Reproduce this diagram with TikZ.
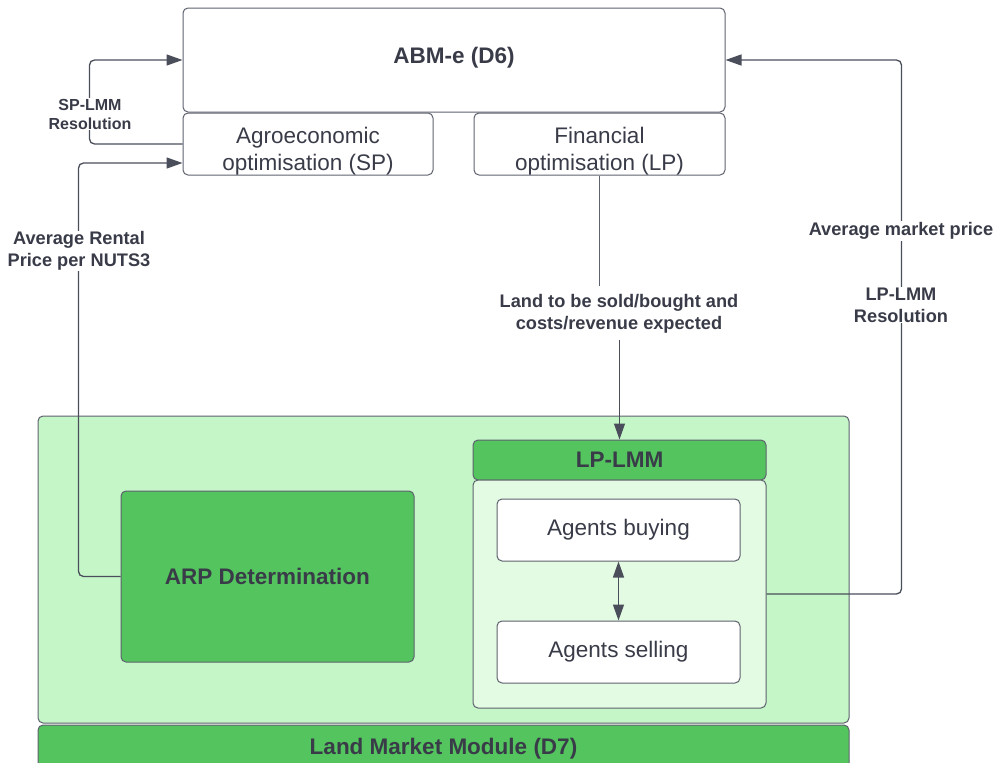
\documentclass[tikz,border=0pt]{standalone}
\usepackage{fontspec}
\setmainfont{Liberation Sans}
\usetikzlibrary{arrows.meta}

\definecolor{txt}{HTML}{393C48}
\definecolor{edge}{HTML}{5E626E}
\definecolor{wire}{HTML}{4A4E5A}
\definecolor{gdark}{HTML}{54C45E}
\definecolor{glight}{HTML}{C4F6C8}
\definecolor{gpale}{HTML}{E3FAE3}

\tikzset{
  box/.style={draw=edge, line width=1pt, rounded corners=5pt, rectangle,
    inner sep=0pt, align=center, text=txt,
    font=\fontsize{22.5}{27}\selectfont},
  boldbox/.style={box, font=\fontsize{22.5}{27}\selectfont\bfseries},
  boxtext/.style={inner sep=0pt, align=center, text=txt,
    font=\fontsize{22.5}{27}\selectfont},
  conn/.style={draw=wire, line width=1.3pt, rounded corners=5pt},
  tip/.style={-{Triangle[length=16pt,width=11pt]}},
  twotips/.style={{Triangle[length=16pt,width=11pt]}-{Triangle[length=16pt,width=11pt]}},
  edgelabel/.style={fill=white, inner sep=1pt, align=center, text=txt,
    font=\fontsize{18.2}{22}\selectfont\bfseries},
  smalllabel/.style={edgelabel, font=\fontsize{16}{19}\selectfont\bfseries}
}

\begin{document}
\begin{tikzpicture}[x=1pt, y=-1pt]
  \useasboundingbox (0,0) rectangle (997,763);

  % ABM-e block and its two optimisation parts
  \node[boldbox, minimum width=542pt, minimum height=104pt] (abm) at (454,60) {};
  \node[boxtext, font=\fontsize{22.5}{27}\selectfont\bfseries] (abmtext) at (454,58) {ABM-e (D6)};
  \node[box, minimum width=250pt, minimum height=62pt] (agro) at (308,144) {};
  \node[boxtext] (agrotext) at (308,151) {Agroeconomic\\optimisation (SP)};
  \node[box, minimum width=251pt, minimum height=62pt] (fin) at (599.5,144) {};
  \node[boxtext] (fintext) at (599.5,151) {Financial\\optimisation (LP)};

  % Land market module
  \node[box, fill=glight, minimum width=811pt, minimum height=307pt] (lmm) at (443.5,569.5) {};
  \node[boldbox, fill=gdark, minimum width=811pt, minimum height=46pt] (lmmfoot) at (443.5,748) {};
  \node[boxtext, font=\fontsize{22.5}{27}\selectfont\bfseries] (lmmtext) at (443.5,749)
    {Land Market Module (D7)};
  \node[boldbox, fill=gdark, minimum width=293pt, minimum height=171pt] (arp) at (267.5,576.5)
    {ARP Determination};
  \node[boldbox, fill=gdark, minimum width=293pt, minimum height=40pt] (lphead) at (619.5,460) {LP-LMM};
  \node[box, fill=gpale, minimum width=293pt, minimum height=228pt] (lpin) at (619.5,594) {};
  \node[box, fill=white, minimum width=243pt, minimum height=62pt] (buy) at (618.5,530) {Agents buying};
  \node[box, fill=white, minimum width=243pt, minimum height=62pt] (sell) at (618.5,652) {Agents selling};

  % buying <-> selling
  \draw[conn, twotips] (buy.south) -- (sell.north);

  % SP-LMM resolution loop
  \draw[conn, tip] (agro.west) -- ++(-93,0) |- (abm.west);
  \node[smalllabel] (splbl) at (90,114) {SP-LMM\\Resolution};

  % average rental price back to the SP
  \draw[conn, tip] (arp.west) -- ++(-42,0) |- ([yshift=-19pt]agro.west);
  \node[edgelabel] (arplbl) at (79,251) {Average Rental\\Price per NUTS3};

  % LP output to the LP-LMM
  \node[edgelabel, fill=none, inner sep=0pt] (landlbl) at (619,314)
    {Land to be sold/bought and\\costs/revenue expected};
  \draw[draw=edge, line width=1pt] (fin.south) -- ([yshift=8pt]fin.south |- landlbl.north);
  \draw[conn, line width=1pt, tip] ([yshift=-6pt]lphead.north |- landlbl.south) -- (lphead.north);

  % LP-LMM resolution back to ABM-e
  \draw[conn, tip] (lpin.east) -- ++(135,0) |- (abm.east);
  \node[edgelabel] (pricelbl) at (901,231) {Average market price};
  \node[edgelabel] (lplbl) at (901,305) {LP-LMM\\Resolution};
\end{tikzpicture}
\end{document}
